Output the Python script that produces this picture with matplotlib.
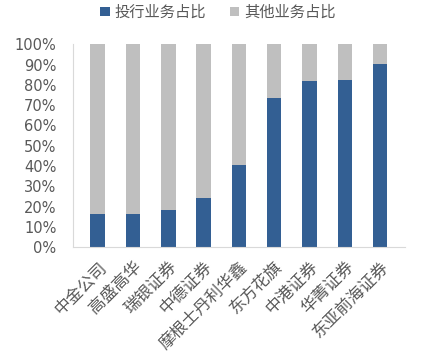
import matplotlib
matplotlib.use('Agg')
import matplotlib.pyplot as plt
from matplotlib.ticker import PercentFormatter

plt.rcParams['font.family'] = ['Noto Sans CJK SC', 'DejaVu Sans']

# 公司与投行业务占比
companies = ['中金公司', '高盛高华', '瑞银证券', '中德证券', '摩根士丹利华鑫',
             '东方花旗', '中港证券', '华菁证券', '东亚前海证券']
ib_share = [0.163, 0.165, 0.184, 0.242, 0.404, 0.734, 0.819, 0.822, 0.901]
other_share = [1 - v for v in ib_share]

blue = '#335F93'
grey = '#BFBFBF'
txt = '#595959'

fig = plt.figure(figsize=(4.23, 3.51), dpi=100)
ax = fig.add_axes([0.1726, 0.296, 0.7844, 0.578])

x = range(len(companies))
ax.bar(x, ib_share, width=0.41, color=blue, label='投行业务占比')
ax.bar(x, other_share, width=0.41, bottom=ib_share, color=grey, label='其他业务占比')

ax.set_ylim(0, 1)
ax.set_xlim(-0.7, len(companies) - 0.3)
ax.set_yticks([i / 10 for i in range(11)])
ax.yaxis.set_major_formatter(PercentFormatter(1.0, decimals=0))
ax.set_xticks(list(x))
ax.set_xticklabels(companies, rotation=45, ha='right', rotation_mode='anchor',
                   fontsize=12)
ax.tick_params(axis='both', length=0, colors=txt)
ax.tick_params(axis='y', pad=12, labelsize=10.5)
ax.tick_params(axis='x', pad=8)
for lab in ax.get_yticklabels():
    lab.set_family('DejaVu Sans')

for s in ['top', 'right']:
    ax.spines[s].set_visible(False)
for s in ['left', 'bottom']:
    ax.spines[s].set_color('#D9D9D9')

fig.legend(loc='center', bbox_to_anchor=(0.515, 0.965), ncol=2, frameon=False,
           handlelength=0.6, handleheight=0.6, columnspacing=1.6, handletextpad=0.3,
           labelcolor=txt, fontsize=11)

fig.savefig('out.png', dpi=100)
